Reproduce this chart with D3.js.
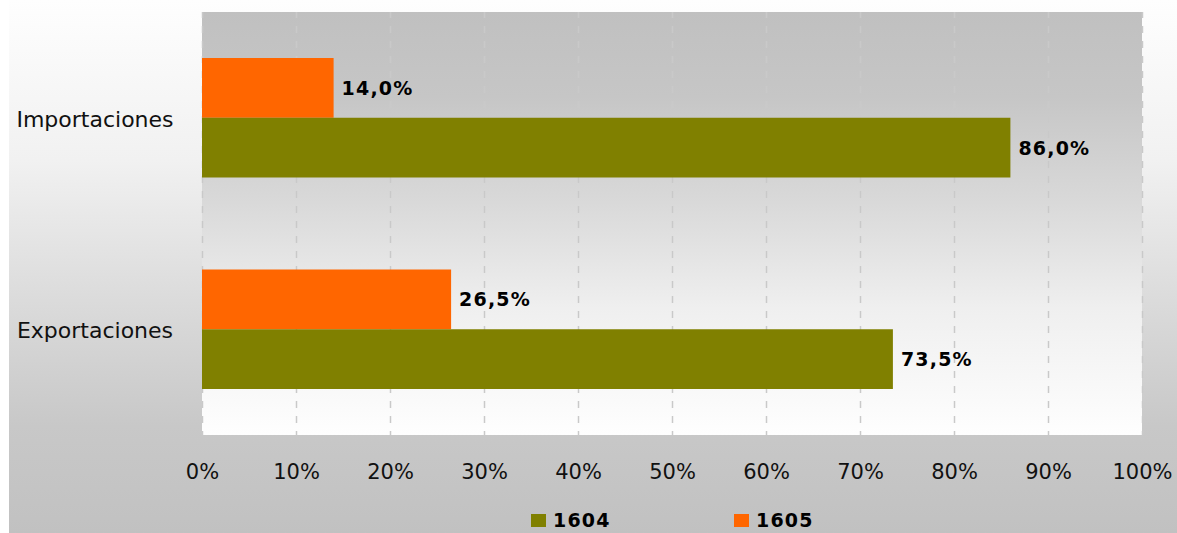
<!DOCTYPE html>
<html>
<head>
<meta charset="utf-8">
<script src="https://cdn.jsdelivr.net/npm/d3@7"></script>
<style>
  body { margin: 0; background: #fff; }
  text { font-family: "DejaVu Sans", Verdana, sans-serif; }
</style>
</head>
<body>
<div id="chart"></div>
<script>
const WIDTH = 1177;
const HEIGHT = 533;

// --------------- Data ---------------
const categories = ["Importaciones", "Exportaciones"];
const seriesNames = ["1604", "1605"];
const values1604 = [0.86, 0.735];
const values1605 = [0.14, 0.265];
const tickValues = [0, 0.1, 0.2, 0.3, 0.4, 0.5, 0.6, 0.7, 0.8, 0.9, 1];

const COLORS = { "1604": "#808000", "1605": "#ff6600" };
const PLOT = { left: 202, right: 1142, top: 12, bottom: 435 };

const es = d3.formatLocale({ decimal: ",", thousands: ".", grouping: [3], currency: ["", " €"] });
const fmtLabel = es.format(".1%");
const fmtTick = d3.format(".0%");

const rows = categories.map((c, i) => ({
  category: c,
  values: [
    { name: "1605", value: values1605[i] },
    { name: "1604", value: values1604[i] }
  ]
}));

// --------------- Step 1 ---------------
// SVG container and background gradients
const svg = d3.select("#chart")
  .append("svg")
  .attr("width", WIDTH)
  .attr("height", HEIGHT);

const defs = svg.append("defs");

const outerGrad = defs.append("linearGradient")
  .attr("id", "outerGrad")
  .attr("x1", 0).attr("y1", 0).attr("x2", 0).attr("y2", 1);
[[0, "#fefefe"], [0.3, "#f1f1f1"], [0.6, "#d8d8d8"], [0.8, "#c8c8c8"], [1, "#c1c1c1"]]
  .forEach(([o, c]) => outerGrad.append("stop").attr("offset", o).attr("stop-color", c));

const plotGrad = defs.append("linearGradient")
  .attr("id", "plotGrad")
  .attr("x1", 0).attr("y1", 0).attr("x2", 0).attr("y2", 1);
[[0, "#c0c0c0"], [0.2, "#c6c6c6"], [0.45, "#d9d9d9"], [0.7, "#efefef"], [1, "#fefefe"]]
  .forEach(([o, c]) => plotGrad.append("stop").attr("offset", o).attr("stop-color", c));

svg.append("rect")
  .attr("x", 9).attr("y", 0)
  .attr("width", WIDTH - 9).attr("height", HEIGHT)
  .attr("fill", "url(#outerGrad)");

svg.append("rect")
  .attr("x", PLOT.left).attr("y", PLOT.top)
  .attr("width", PLOT.right - PLOT.left).attr("height", PLOT.bottom - PLOT.top)
  .attr("fill", "url(#plotGrad)");

// --------------- Step 2 ---------------
// Scales
const x = d3.scaleLinear().domain([0, 1]).range([PLOT.left, PLOT.right]);
const y = d3.scaleBand().domain(categories).range([PLOT.top, PLOT.bottom]);
const ySeries = d3.scaleBand()
  .domain(["1605", "1604"])
  .range([46, y.bandwidth() - 46]);

// Dashed vertical gridlines
const grid = svg.append("g")
  .attr("transform", `translate(0,${PLOT.bottom})`)
  .call(d3.axisBottom(x).tickValues(tickValues).tickSize(-(PLOT.bottom - PLOT.top)).tickFormat(""));
grid.select(".domain").remove();
grid.selectAll("line")
  .attr("stroke", "#c9c9c9")
  .attr("stroke-width", 1.5)
  .attr("stroke-dasharray", "7,8")
  .attr("stroke-dashoffset", 3);

// --------------- Step 3 ---------------
// Bars and value labels
const groups = svg.append("g")
  .selectAll("g")
  .data(rows)
  .enter()
  .append("g")
  .attr("transform", d => `translate(0,${y(d.category)})`);

groups.selectAll("rect")
  .data(d => d.values)
  .enter()
  .append("rect")
  .attr("x", x(0))
  .attr("y", d => ySeries(d.name))
  .attr("width", d => x(d.value) - x(0))
  .attr("height", ySeries.bandwidth())
  .attr("fill", d => COLORS[d.name]);

groups.selectAll("text.value")
  .data(d => d.values)
  .enter()
  .append("text")
  .attr("class", "value")
  .attr("x", d => x(d.value) + 8)
  .attr("y", d => ySeries(d.name) + ySeries.bandwidth() / 2 + 7)
  .attr("font-size", 19)
  .attr("font-weight", "bold")
  .attr("letter-spacing", 1.2)
  .attr("fill", "#000")
  .text(d => fmtLabel(d.value));

// Category labels
svg.append("g")
  .selectAll("text")
  .data(categories)
  .enter()
  .append("text")
  .attr("x", 95)
  .attr("y", d => y(d) + y.bandwidth() / 2 + 9)
  .attr("text-anchor", "middle")
  .attr("font-size", 22)
  .attr("fill", "#111")
  .text(d => d);

// --------------- Step 4 ---------------
// X axis tick labels
const xAxis = svg.append("g")
  .attr("transform", `translate(0,${PLOT.bottom})`)
  .call(d3.axisBottom(x).tickValues(tickValues).tickSize(0).tickPadding(29).tickFormat(fmtTick));
xAxis.select(".domain").remove();
xAxis.selectAll("text")
  .attr("font-family", "DejaVu Sans, Verdana, sans-serif")
  .attr("font-size", 21)
  .attr("fill", "#111");

// Legend
const legendX = [531, 734];
const legend = svg.append("g")
  .selectAll("g")
  .data(seriesNames)
  .enter()
  .append("g")
  .attr("transform", (d, i) => `translate(${legendX[i]},514)`);

legend.append("rect")
  .attr("width", 15)
  .attr("height", 13)
  .attr("fill", d => COLORS[d]);

legend.append("text")
  .attr("x", 22)
  .attr("y", 13)
  .attr("font-size", 19)
  .attr("font-weight", "bold")
  .attr("letter-spacing", 1.2)
  .attr("fill", "#000")
  .text(d => d);
</script>
</body>
</html>
